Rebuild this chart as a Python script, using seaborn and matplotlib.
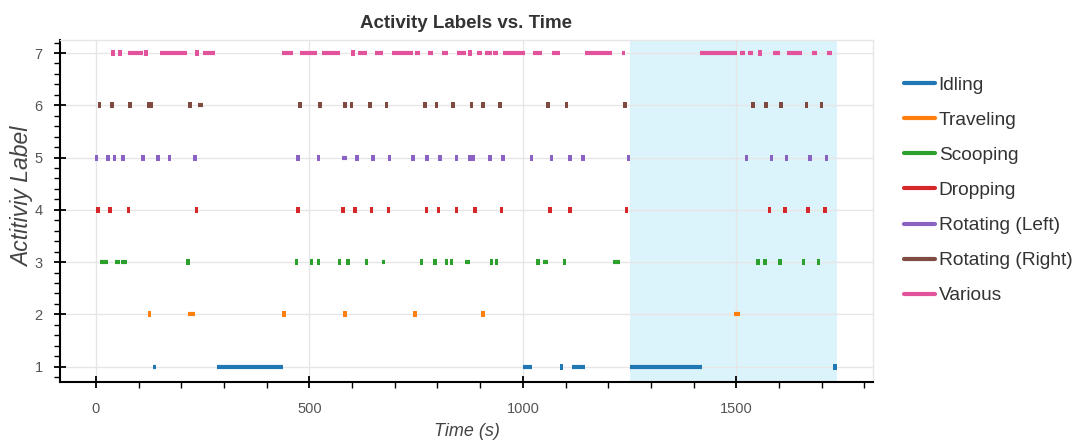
import matplotlib
matplotlib.use("Agg")
import matplotlib.pyplot as plt
import numpy as np
import pandas as pd
import seaborn as sns
from matplotlib.lines import Line2D
from matplotlib.ticker import MultipleLocator

# ---------------- data ----------------
activities = ["Idling", "Traveling", "Scooping", "Dropping",
              "Rotating (Left)", "Rotating (Right)", "Various"]
levels = [1, 2, 3, 4, 5, 6, 7]
colors = ["#1f77b4", "#ff7f0e", "#2ca02c", "#d62728",
          "#8a62c4", "#7f4b41", "#e3539b"]

# continuous stretches (start s, end s)
idling_intervals = [(135, 141), (283, 439), (1000, 1021), (1114, 1145), (1251, 1419)]
traveling_intervals = [(216, 232), (1494, 1508)]
scooping_intervals = [(9, 29), (44, 56), (60, 72), (669, 677), (864, 876),
                      (1047, 1059), (1211, 1227)]
dropping_intervals = []
rot_left_intervals = [(576, 588)]
rot_right_intervals = [(239, 251)]
various_intervals = [(75, 110), (150, 213), (251, 279), (436, 462), (478, 518),
                     (529, 571), (614, 635), (653, 672), (693, 742), (747, 759),
                     (778, 789), (810, 824), (845, 866), (892, 904), (911, 927),
                     (930, 941), (953, 1005), (1023, 1044), (1068, 1087),
                     (1145, 1208), (1232, 1239), (1415, 1501), (1508, 1520),
                     (1527, 1539), (1585, 1602), (1618, 1653), (1677, 1688),
                     (1712, 1724)]

# short single events (s)
idling_events = [1091, 1731]
traveling_events = [126, 440, 583, 747, 907]
scooping_events = [216, 470, 505, 521, 571, 591, 634, 763, 794, 821, 833,
                   927, 938, 1036, 1098, 1551, 1567, 1602, 1657, 1692]
dropping_events = [5, 33, 76, 236, 474, 579, 607, 646, 685, 774, 802, 845,
                   888, 950, 1063, 1110, 1243, 1578, 1614, 1668, 1707]
rot_left_events = [2, 29, 44, 64, 111, 146, 173, 232, 474, 521, 611, 649, 688,
                   743, 775, 806, 845, 876, 884, 923, 954, 1020, 1067, 1110,
                   1141, 1247, 1524, 1582, 1617, 1672, 1711]
rot_right_events = [8, 38, 80, 123, 130, 220, 478, 525, 583, 599, 642, 681,
                    771, 798, 837, 880, 907, 946, 1059, 1102, 1239, 1539,
                    1570, 1605, 1664, 1699]
various_events = [40, 56, 118, 237, 602, 876, 1555]

highlight_start, highlight_end = 1250, 1735

x_ticks = [0, 500, 1000, 1500]
y_ticks = [1, 2, 3, 4, 5, 6, 7]

all_intervals = [idling_intervals, traveling_intervals, scooping_intervals,
                 dropping_intervals, rot_left_intervals, rot_right_intervals,
                 various_intervals]
all_events = [idling_events, traveling_events, scooping_events, dropping_events,
              rot_left_events, rot_right_events, various_events]

# ---------------- tables ----------------
iv_rows, ev_rows = [], []
seg = 0
for act, lev, ivs, evs in zip(activities, levels, all_intervals, all_events):
    for s, e in ivs:
        iv_rows.append((act, lev, s, seg))
        iv_rows.append((act, lev, e, seg))
        seg += 1
    for t in evs:
        ev_rows.append((act, lev, t))
iv_df = pd.DataFrame(iv_rows, columns=["activity", "label", "time", "seg"])
ev_df = pd.DataFrame(ev_rows, columns=["activity", "label", "time"])
pal = dict(zip(activities, colors))

# ---------------- plot ----------------
sns.set_theme(style="white")
plt.rcParams["font.family"] = ["Liberation Sans", "DejaVu Sans"]

fig = plt.figure(figsize=(10.75, 4.44), dpi=100)
ax = fig.add_axes([0.0558, 0.14, 0.7563, 0.77])

ax.axvspan(highlight_start, highlight_end, color="#dbf3fa", lw=0, zorder=0.2)
ax.set_axisbelow(True)
ax.grid(True, which="major", color="#e6e6e6", lw=1)

sns.lineplot(data=iv_df, x="time", y="label", hue="activity", units="seg",
             estimator=None, sort=False, palette=pal, hue_order=activities,
             lw=3, solid_capstyle="butt", legend=False, ax=ax, zorder=3)
rect_marker = [(-0.3, -0.5), (0.3, -0.5), (0.3, 0.5), (-0.3, 0.5), (-0.3, -0.5)]
sns.scatterplot(data=ev_df, x="time", y="label", hue="activity",
                palette=pal, hue_order=activities, marker=rect_marker, s=18,
                linewidth=0, legend=False, ax=ax, zorder=3)

ax.set_xlim(-84, 1820)
ax.set_ylim(0.71, 7.25)
ax.set_xticks(x_ticks)
ax.set_yticks(y_ticks)
ax.xaxis.set_minor_locator(MultipleLocator(100))
ax.yaxis.set_minor_locator(MultipleLocator(0.2))
ax.tick_params(which="major", direction="inout", length=9, width=1.3,
               color="black", labelsize=10.5, labelcolor="#555555")
ax.tick_params(axis="x", which="major", pad=10)
ax.tick_params(axis="y", which="major", pad=8)
ax.tick_params(which="minor", direction="out", length=4, width=1, color="black")
ax.tick_params(which="both", bottom=True, left=True, top=False, right=False)

for side in ["left", "bottom"]:
    ax.spines[side].set_color("black")
    ax.spines[side].set_linewidth(1.5)
for side in ["top", "right"]:
    ax.spines[side].set_color("#e6e6e6")
    ax.spines[side].set_linewidth(1)

ax.set_xlabel("Time (s)", fontsize=13, style="italic", color="#444444", labelpad=5)
ax.set_ylabel("Actitiviy Label", fontsize=16.5, style="italic", color="#444444")
ax.yaxis.set_label_coords(-0.032, 0.54)

fig.text(0.4335, 0.948, "Activity Labels vs. Time", ha="center", va="center",
         fontsize=13.5, fontweight="bold", color="#333333")

handles = [Line2D([0], [0], color=c, lw=3) for c in colors]
fig.legend(handles, activities, loc="center left", bbox_to_anchor=(0.834, 0.571),
           frameon=False, fontsize=13.8, handlelength=1.6, handletextpad=0.2,
           labelspacing=0.92, borderaxespad=0, labelcolor="#333333")

fig.savefig("out.png", dpi=100)
